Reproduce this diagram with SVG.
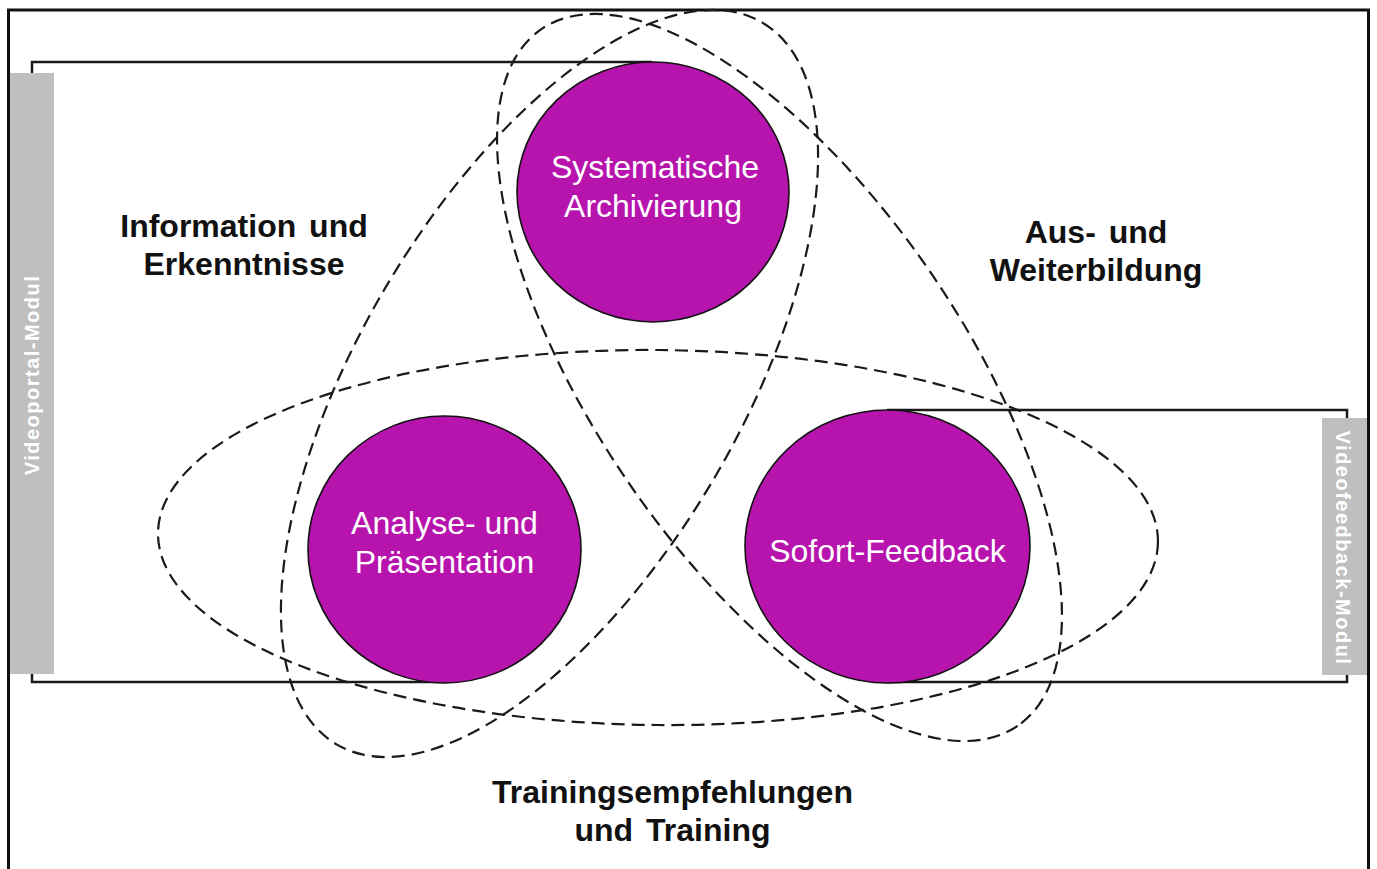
<svg xmlns="http://www.w3.org/2000/svg" width="1377" height="869" viewBox="0 0 1377 869">
  <style>
    .frame { fill: none; stroke: #111; stroke-width: 3; }
    .bracket { fill: none; stroke: #1a1a1a; stroke-width: 2.5; }
    .bar { fill: #bfbfbf; }
    .bartext { font-family: "Liberation Sans", Arial, sans-serif; font-weight: bold; font-size: 20px; fill: #ffffff; letter-spacing: 1.5px; text-anchor: middle; }
    .zone { fill: none; stroke: #1a1a1a; stroke-width: 2.2; stroke-dasharray: 13 7; }
    .node { fill: #b714ae; stroke: #111; stroke-width: 1.6; }
    .nodetext { font-family: "Liberation Sans", Arial, sans-serif; font-size: 32px; fill: #ffffff; text-anchor: middle; }
    .label { font-family: "Liberation Sans", Arial, sans-serif; font-weight: bold; font-size: 32px; fill: #111; text-anchor: middle; word-spacing: 4px; }
  </style>

  <rect x="0" y="0" width="1377" height="869" fill="#ffffff"/>

  <!-- outer frame, open at the bottom edge -->
  <rect class="frame" x="8.5" y="10" width="1360" height="900"/>

  <!-- module brackets with their grey side bars -->
  <g id="videoportal-modul">
    <path class="bracket" d="M 652 62 H 32 V 73 M 32 673 V 682 H 444"/>
    <rect class="bar" x="10" y="73" width="44" height="601"/>
    <text class="bartext" transform="translate(39,375) rotate(-90)">Videoportal-Modul</text>
  </g>
  <g id="videofeedback-modul">
    <path class="bracket" d="M 887 410 H 1347 V 418 M 1347 674 V 682 H 887"/>
    <rect class="bar" x="1322" y="418" width="45" height="257"/>
    <text class="bartext" transform="translate(1336,548) rotate(90)">Videofeedback-Modul</text>
  </g>

  <!-- dashed application zones -->
  <g id="zones">
    <ellipse class="zone" cx="658" cy="537.5" rx="500" ry="187.5" transform="rotate(0.5 658 537.5)"/>
    <ellipse class="zone" cx="549.5" cy="383.5" rx="419" ry="190" transform="rotate(-59.45 549.5 383.5)"/>
    <ellipse class="zone" cx="779.5" cy="377.5" rx="422" ry="184" transform="rotate(55.65 779.5 377.5)"/>
  </g>

  <!-- function nodes -->
  <g id="systematische-archivierung">
    <ellipse class="node" cx="653" cy="192" rx="136" ry="130"/>
    <text class="nodetext" x="655" y="178">Systematische</text>
    <text class="nodetext" x="653" y="217">Archivierung</text>
  </g>
  <g id="analyse-praesentation">
    <ellipse class="node" cx="444.5" cy="549.5" rx="136.5" ry="133.5"/>
    <text class="nodetext" x="444.5" y="534">Analyse- und</text>
    <text class="nodetext" x="444.5" y="573">Präsentation</text>
  </g>
  <g id="sofort-feedback">
    <ellipse class="node" cx="887.5" cy="546.5" rx="142.5" ry="136.5"/>
    <text class="nodetext" x="887.5" y="562">Sofort-Feedback</text>
  </g>

  <!-- zone labels -->
  <g id="information-erkenntnisse">
    <text class="label" x="244" y="237">Information und</text>
    <text class="label" x="244" y="275">Erkenntnisse</text>
  </g>
  <g id="aus-weiterbildung">
    <text class="label" x="1096" y="243">Aus- und</text>
    <text class="label" x="1096" y="281">Weiterbildung</text>
  </g>
  <g id="trainingsempfehlungen">
    <text class="label" x="672.5" y="803">Trainingsempfehlungen</text>
    <text class="label" x="672.5" y="841">und Training</text>
  </g>
</svg>
